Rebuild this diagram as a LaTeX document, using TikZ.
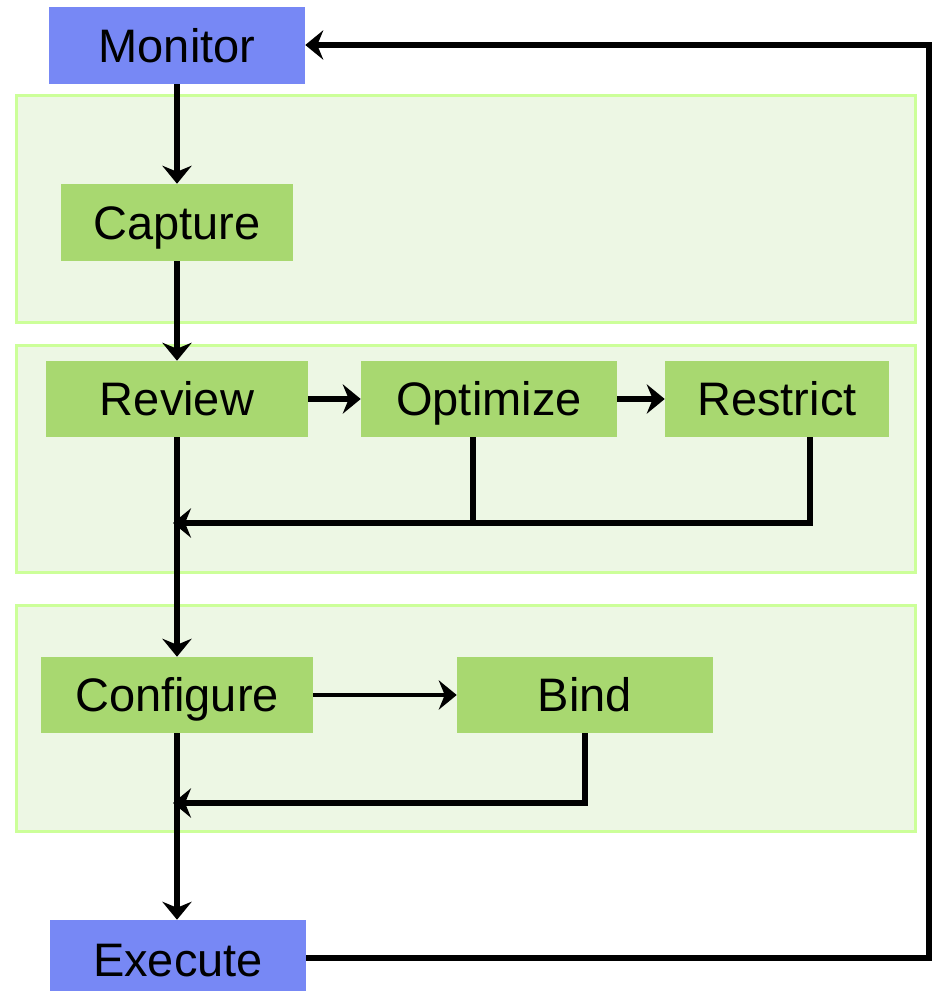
\documentclass[tikz,border=0pt]{standalone}
\usepackage{fontspec}
\setmainfont{Liberation Sans}
\usetikzlibrary{arrows.meta}
\definecolor{boxblue}{RGB}{119,136,245}
\definecolor{boxgreen}{RGB}{168,216,112}
\definecolor{panelborder}{RGB}{204,255,153}
\definecolor{panelfill}{RGB}{237,247,228}
\tikzset{
  x=0.75pt, y=-0.75pt,
  base/.style={rectangle, inner sep=0pt, text height=25.3pt, text depth=0pt,
    font=\fontsize{35.25}{40}\selectfont, text=black},
  bluebox/.style={base, fill=boxblue},
  greenbox/.style={base, fill=boxgreen},
  panel/.style={draw=panelborder, fill=panelfill, line width=2.25pt},
  conn/.style={line width=4.5pt, draw=black},
  thinconn/.style={line width=3pt, draw=black},
  tip/.style={-{Stealth[length=13.5pt, width=22pt, inset=4.5pt]}},
}
\begin{document}
\begin{tikzpicture}
\useasboundingbox (0,0) rectangle (934,991);
% panels
\path[panel] (16,96) rectangle (915,322);
\path[panel] (16,345) rectangle (915,572);
\path[panel] (16,605) rectangle (915,831);
% nodes
\node[bluebox, minimum width=192pt, minimum height=57.75pt] (mon) at (177,45.5) {Monitor};
\node[greenbox, minimum width=174pt, minimum height=57.75pt] (cap) at (177,222.5) {Capture};
\node[greenbox, minimum width=196.5pt, minimum height=57pt] (rev) at (177,399) {Review};
\node[greenbox, minimum width=192pt, minimum height=57pt] (opt) at (489,399) {Optimize};
\node[greenbox, minimum width=168pt, minimum height=57pt] (res) at (777,399) {Restrict};
\node[greenbox, minimum width=204pt, minimum height=57pt] (conf) at (177,695) {Configure};
\node[greenbox, minimum width=192pt, minimum height=57pt] (bind) at (585,695) {Bind};
\node[bluebox, minimum width=192pt, minimum height=60pt] (exe) at (178,960) {Execute};
% junction points
\coordinate (j1) at (173,523);
\coordinate (j2) at (173,803);
\coordinate (ra) at (929,958);
\coordinate (rb) at (929,45);
% main flow
\draw[conn, tip] (mon.south) -- (cap.north);
\draw[conn, tip] (cap.south) -- (rev.north);
\draw[conn, tip] (rev.south) -- (conf.north);
\draw[conn, tip] (conf.south) -- (exe.north -| conf.south);
\draw[conn, tip] (rev.east) -- (opt.west);
\draw[conn, tip] (opt.east) -- (res.west);
% review feedback
\draw[conn] (opt.south -| 473,0) -- (473,523);
\draw[conn, tip] (res.south -| 810,0) -- (810,523) -- (j1);
% configure
\draw[thinconn, tip] (conf.east) -- (bind.west);
\draw[conn, tip] (bind.south) -- (585,803) -- (j2);
% loop back
\draw[conn, tip] (exe.east |- ra) -- (ra) -- (rb) -- (mon.east |- rb);
\end{tikzpicture}
\end{document}
